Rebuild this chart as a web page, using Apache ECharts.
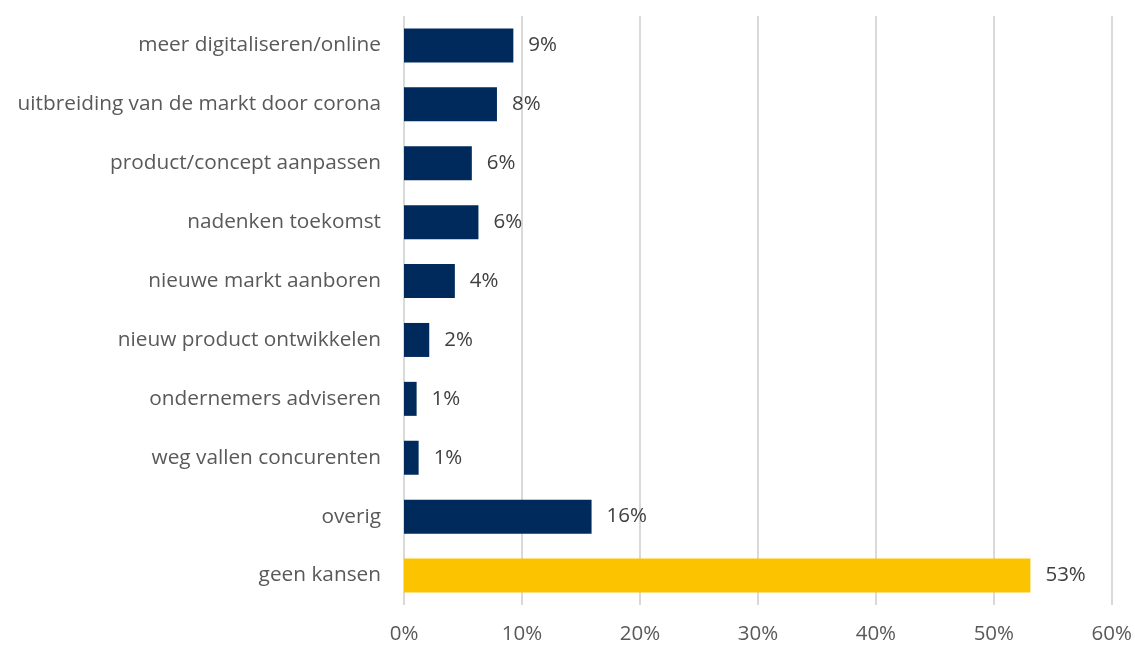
<!DOCTYPE html>
<html>
<head>
<meta charset="utf-8">
<script src="https://cdn.jsdelivr.net/npm/echarts@6/dist/echarts.min.js"></script>
<style>
html,body{margin:0;padding:0;background:#fff;}
#chart{width:1135px;height:645px;}
</style>
</head>
<body>
<div id="chart"></div>
<script>
const categories = [
  "meer digitaliseren/online",
  "uitbreiding van de markt door corona",
  "product/concept aanpassen",
  "nadenken toekomst",
  "nieuwe markt aanboren",
  "nieuw product ontwikkelen",
  "ondernemers adviseren",
  "weg vallen concurenten",
  "overig",
  "geen kansen"
];
const values = [9.27, 7.88, 5.75, 6.31, 4.31, 2.14, 1.07, 1.24, 15.9, 53.1];
const barColors = ["#002a5c","#002a5c","#002a5c","#002a5c","#002a5c","#002a5c","#002a5c","#002a5c","#002a5c","#fcc400"];
const xTicks = [0, 10, 20, 30, 40, 50, 60];

const chart = echarts.init(document.getElementById('chart'));
const font = '"Open Sans", sans-serif';
chart.setOption({
  animation: false,
  grid: {left: 404, right: 22.5, top: 16, bottom: 40, containLabel: false},
  xAxis: {
    type: 'value',
    min: xTicks[0],
    max: xTicks[xTicks.length - 1],
    interval: 10,
    axisLine: {show: false},
    axisTick: {show: false},
    splitLine: {show: true, lineStyle: {color: '#d9d9d9', width: 2}},
    axisLabel: {formatter: v => v + '%', color: '#595959', fontSize: 20.5, fontFamily: font, margin: 19}
  },
  yAxis: {
    type: 'category',
    data: categories,
    inverse: true,
    axisLine: {show: false},
    axisTick: {show: false},
    axisLabel: {color: '#595959', fontSize: 20.8, fontFamily: font, margin: 23}
  },
  series: [{
    type: 'bar',
    data: values.map((v, i) => ({value: v, itemStyle: {color: barColors[i]}})),
    barWidth: 34,
    label: {
      show: true,
      position: 'right',
      distance: 15,
      formatter: p => Math.round(p.value) + '%',
      color: '#404040',
      fontSize: 20.5,
      fontFamily: font
    }
  }]
});
</script>
</body>
</html>
